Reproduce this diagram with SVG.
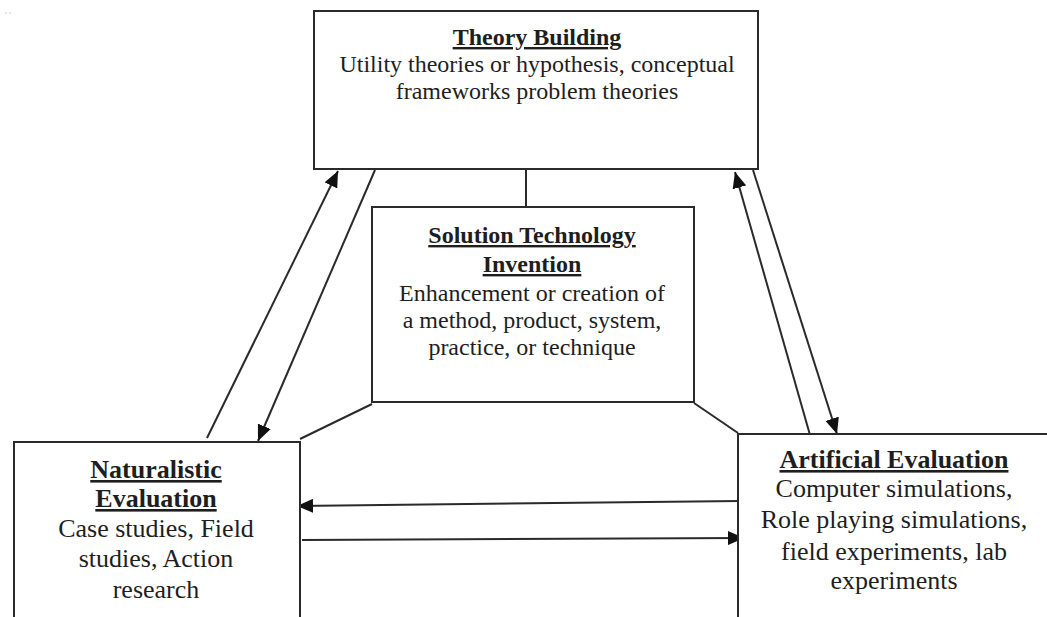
<svg xmlns="http://www.w3.org/2000/svg" width="1047" height="617" viewBox="0 0 1047 617">
  <style>
    .box { fill: #ffffff; stroke: #2a2a2a; stroke-width: 2; }
    .link { stroke: #2a2a2a; stroke-width: 2; fill: none; }
    .arrow { marker-end: url(#head); }
    text { font-family: "Liberation Serif", "Times New Roman", serif; fill: #1e1e1e; text-anchor: middle; }
    .t24 { font-size: 24px; }
    .t26 { font-size: 26px; }
    .title { font-weight: bold; text-decoration: underline; }
  </style>
  <defs>
    <marker id="head" markerUnits="userSpaceOnUse" markerWidth="18" markerHeight="14" refX="16" refY="7" orient="auto">
      <path d="M0,0 L16,7 L0,14 Z" fill="#111111"/>
    </marker>
  </defs>

  <rect width="1047" height="617" fill="#ffffff"/>
  <!-- small specks in the corner -->
  <circle cx="6" cy="13" r="0.8" fill="#c8c8c8"/>
  <circle cx="10" cy="13" r="0.8" fill="#c8c8c8"/>

  <!-- connectors -->
  <g id="connectors">
    <line class="link" x1="526" y1="169" x2="526" y2="207"/>
    <line class="link" x1="372" y1="404" x2="300" y2="439"/>
    <line class="link" x1="694" y1="403" x2="738" y2="433"/>
    <line class="link arrow" x1="207" y1="438" x2="338" y2="171"/>
    <line class="link arrow" x1="375" y1="170" x2="258" y2="441"/>
    <line class="link arrow" x1="810" y1="435" x2="735" y2="172"/>
    <line class="link arrow" x1="753" y1="170" x2="837" y2="434"/>
    <line class="link arrow" x1="740" y1="501" x2="297" y2="506"/>
    <line class="link arrow" x1="302" y1="540" x2="744" y2="538"/>
  </g>

  <!-- Theory Building -->
  <g id="theory-building">
    <rect class="box" x="314" y="11" width="444" height="158"/>
    <text class="t24 title" x="537" y="45">Theory Building</text>
    <text class="t24" x="537" y="72">Utility theories or hypothesis, conceptual</text>
    <text class="t24" x="537" y="99">frameworks problem theories</text>
  </g>

  <!-- Solution Technology Invention -->
  <g id="solution-technology-invention">
    <rect class="box" x="372" y="207" width="322" height="195"/>
    <text class="t24 title" x="532" y="243">Solution Technology</text>
    <text class="t24 title" x="532" y="272">Invention</text>
    <text class="t24" x="532" y="301">Enhancement or creation of</text>
    <text class="t24" x="532" y="328">a method, product, system,</text>
    <text class="t24" x="532" y="355">practice, or technique</text>
  </g>

  <!-- Naturalistic Evaluation -->
  <g id="naturalistic-evaluation">
    <rect class="box" x="14" y="442" width="286" height="190"/>
    <text class="t26 title" x="156" y="478">Naturalistic</text>
    <text class="t26 title" x="156" y="507">Evaluation</text>
    <text class="t26" x="156" y="537">Case studies, Field</text>
    <text class="t26" x="156" y="567">studies, Action</text>
    <text class="t26" x="156" y="598">research</text>
  </g>

  <!-- Artificial Evaluation -->
  <g id="artificial-evaluation">
    <rect class="box" x="738" y="434" width="320" height="200"/>
    <text class="t26 title" x="894" y="468">Artificial Evaluation</text>
    <text class="t26" x="894" y="497">Computer simulations,</text>
    <text class="t26" x="894" y="528">Role playing simulations,</text>
    <text class="t26" x="894" y="560">field experiments, lab</text>
    <text class="t26" x="894" y="589">experiments</text>
  </g>
</svg>
